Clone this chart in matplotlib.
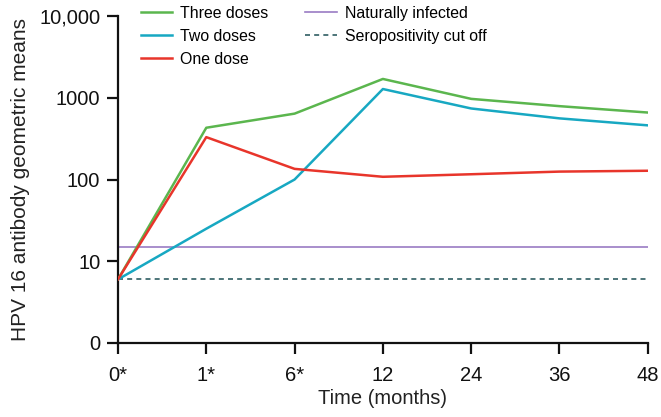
import matplotlib
matplotlib.use("Agg")
import matplotlib.pyplot as plt
from matplotlib.ticker import FixedLocator, FixedFormatter, NullLocator

plt.rcParams['font.family'] = ['Liberation Sans', 'DejaVu Sans']

time_labels = ["0*", "1*", "6*", "12", "24", "36", "48"]
three_doses = [6, 430, 640, 1700, 970, 790, 660]
two_doses = [6, 25, 100, 1280, 740, 560, 460]
one_dose = [6, 330, 135, 108, 116, 125, 128]
naturally_infected = 15
seropositivity_cutoff = 6
y_ticks = [1, 10, 100, 1000, 10000]
y_tick_labels = ["0", "10", "100", "1000", "10,000"]

fig = plt.figure(figsize=(6.61, 4.17), dpi=100)
ax = fig.add_axes([0.1785, 0.1775, 0.8015, 0.784])

x = list(range(len(time_labels)))
ax.plot(x, three_doses, color="#5bb64e", lw=1.8, label="Three doses", zorder=3)
ax.plot(x, two_doses, color="#17a8c2", lw=1.8, label="Two doses", zorder=3)
ax.plot(x, one_dose, color="#e8352b", lw=1.8, label="One dose", zorder=4)
ax.axhline(naturally_infected, color="#9a7cc4", lw=1.2, label="Naturally infected")
ax.axhline(seropositivity_cutoff, color="#2f5d62", lw=1.2, ls=(0, (3, 2.5)), label="Seropositivity cut off")

ax.set_yscale("log")
ax.set_ylim(1, 10000)
ax.set_xlim(0, len(time_labels) - 1)
ax.yaxis.set_major_locator(FixedLocator(y_ticks))
ax.yaxis.set_major_formatter(FixedFormatter(y_tick_labels))
ax.yaxis.set_minor_locator(NullLocator())
ax.set_xticks(x)
ax.set_xticklabels(time_labels)

for s in ["top", "right"]:
    ax.spines[s].set_visible(False)
for s in ["left", "bottom"]:
    ax.spines[s].set_linewidth(1.6)
    ax.spines[s].set_color("#111111")
ax.tick_params(axis="both", direction="out", length=7.7, width=1.6, labelsize=14.5, colors="#111111")
ax.tick_params(axis="x", pad=9)
ax.tick_params(axis="y", pad=5)
ax.set_xlabel("Time (months)", fontsize=14.5, labelpad=3, color="#222222")
ax.set_ylabel("HPV 16 antibody geometric means", fontsize=15, labelpad=7, color="#222222")

ax.legend(loc="upper left", bbox_to_anchor=(0.016, 1.075), ncol=2, frameon=False, fontsize=11.4,
          handlelength=2.0, columnspacing=2.3, labelspacing=0.5, handletextpad=0.5)

fig.savefig("out.png", dpi=100)
